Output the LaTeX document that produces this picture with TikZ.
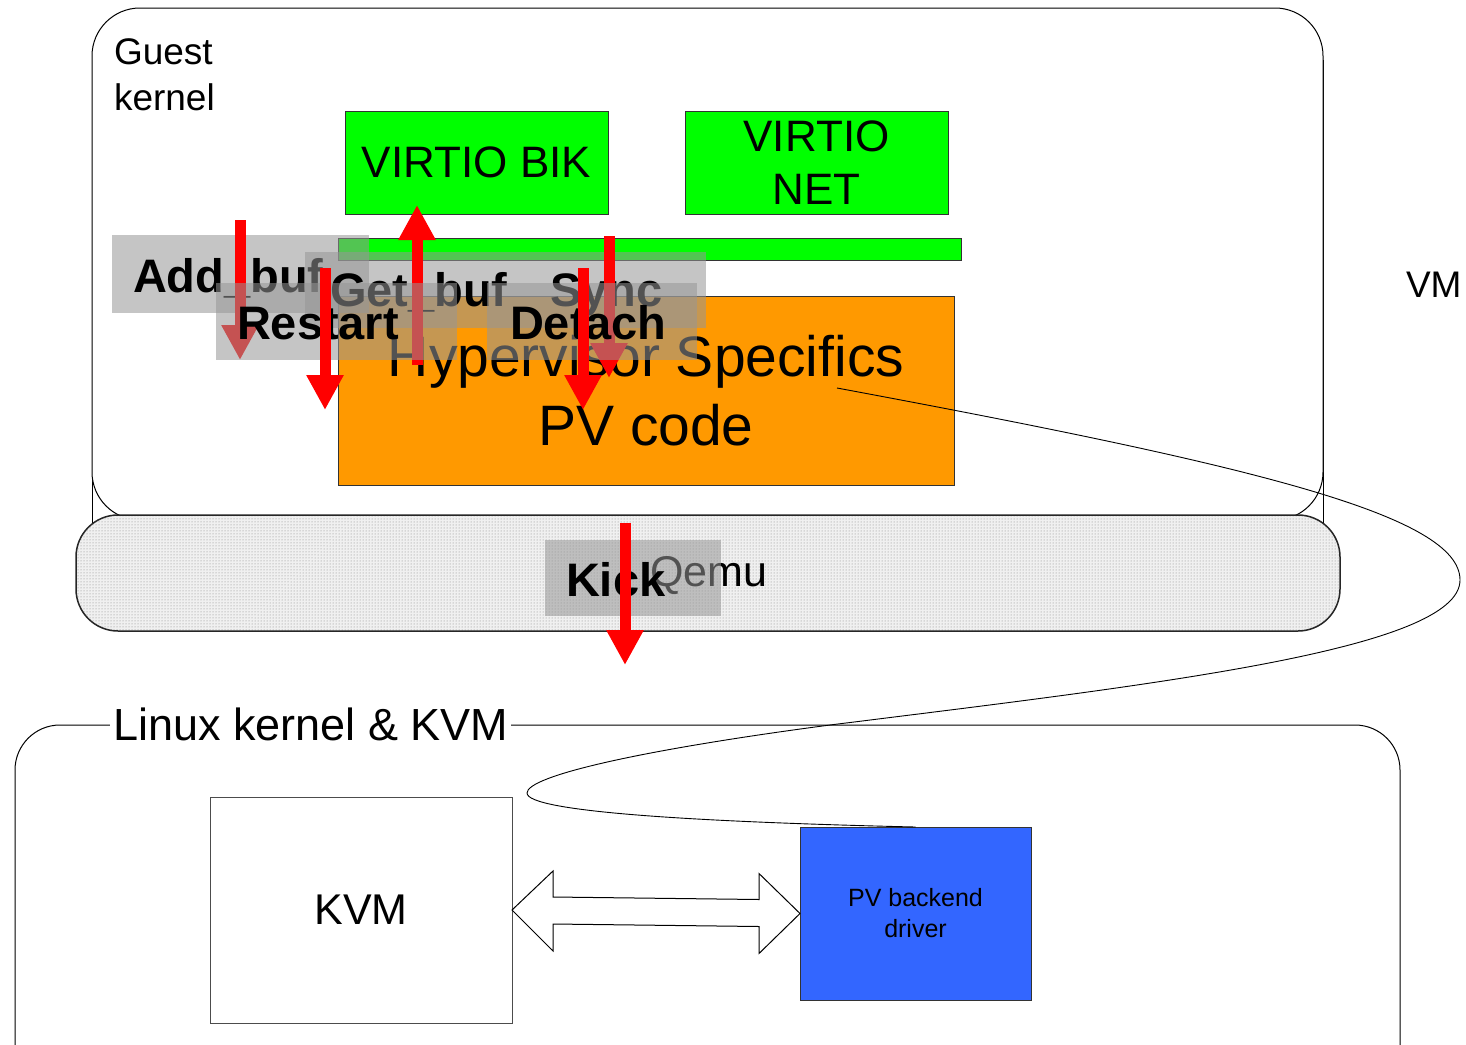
\documentclass[tikz,border=0pt]{standalone}
\usepackage{fontspec}
\setmainfont{Liberation Sans}
\usetikzlibrary{arrows.meta,patterns,calc}
\definecolor{vgreen}{HTML}{00FF00}
\definecolor{vorange}{HTML}{FF9900}
\definecolor{vblue}{HTML}{3366FF}
\definecolor{vred}{HTML}{FF0000}
\definecolor{labgray}{RGB}{150,150,150}
\newcommand\fsz[2]{\fontsize{#1}{#2}\selectfont}
\begin{document}
\begin{tikzpicture}[x=1pt,y=-1pt,
  thinline/.style={draw=black, line width=1pt},
  txt/.style={inner sep=0pt, outer sep=0pt},
  boxnode/.style={draw=black!80, line width=1pt, inner sep=0pt, outer sep=0pt, align=center},
  labelbox/.style={fill=labgray, fill opacity=0.55, draw=none},
  boldlab/.style={txt, anchor=base west, font=\fsz{47}{55}\bfseries},
  redarrow/.style={draw=vred, line width=11pt, -{Triangle[length=35pt,width=35pt]}}
]
\useasboundingbox (0,0) rectangle (1466,1044);

% VM outer frame and guest kernel
\draw[thinline] (92,60) rectangle (1323,525);
\draw[thinline, fill=white, rounded corners=48pt] (92,8) rectangle (1323,520);
\node[txt, anchor=west, align=left, font=\fsz{37}{46}] (guest) at (114,75) {Guest\\kernel};
\node[txt, anchor=base west, font=\fsz{37}{46}] (vm) at (1406,297) {VM};

% green and orange blocks
\node[boxnode, fill=vgreen, minimum width=263pt, minimum height=103pt, font=\fsz{44}{53}] (blk) at (476.5,162.5) {VIRTIO BIK};
\node[boxnode, fill=vgreen, minimum width=263pt, minimum height=103pt, font=\fsz{44}{53}] (net) at (816.5,162.5) {\raisebox{2pt}{\parbox{250pt}{\centering VIRTIO\\NET}}};
\node[boxnode, fill=vgreen, minimum width=623pt, minimum height=22pt] (bar) at (649.5,249) {};
\node[boxnode, fill=vorange, minimum width=616pt, minimum height=189pt, font=\fsz{57}{69}] (hv) at (646,390.5) {Hypervisor Specifics\\PV code};
\coordinate (hvstart) at (837,388);

% Qemu
\path[fill=gray!12, rounded corners=42pt] (76,515) rectangle (1340,631);
\path[pattern=dots, pattern color=gray, rounded corners=42pt] (76,515) rectangle (1340,631);
\draw[line width=1.5pt, draw=black!85, rounded corners=42pt] (76,515) rectangle (1340,631);
\node[txt, anchor=base, font=\fsz{43}{50}] (qemu) at (709,586) {Qemu};

% Linux kernel & KVM
\draw[thinline, rounded corners=45pt] (15,1060) -- (15,725) -- (1400,725) -- (1400,1060);
\node[txt, fill=white, inner xsep=3pt, inner ysep=2pt, anchor=base west, font=\fsz{45}{50}] (linux) at (110,740) {Linux kernel \& KVM};
\node[boxnode, draw=black!70, fill=white, minimum width=302pt, minimum height=226pt, font=\fsz{43}{50}] (kvm) at (361,910) {KVM};
\node[boxnode, fill=vblue, minimum width=231pt, minimum height=173pt, font=\fsz{25}{31}] (pv) at (915.5,913.5) {PV backend\\driver};

% double arrow between KVM and PV backend
\draw[thinline, fill=white, line join=miter]
  (kvm.east) -- ($(kvm.east)+(41,-39)$) -- ($(kvm.east)+(41,-13)$) -- ($(pv.west)+(-41,-14)$)
  -- ($(pv.west)+(-41,-40)$) -- (pv.west) -- ($(pv.west)+(-41,40)$) -- ($(pv.west)+(-41,13)$)
  -- ($(kvm.east)+(41,14)$) -- ($(kvm.east)+(41,41)$) -- cycle;

% curve
\draw[line width=0.9pt] (hvstart) .. controls (1250,465) and (1460,515) .. (1460,580)
  .. controls (1460,650) and (1150,685) .. (830,725)
  .. controls (640,750) and (527,776) .. (527,793)
  .. controls (527,812) and (700,822) .. (pv.north);

% Add_buf
\path[labelbox] (112,235) rectangle (369,313);
\node[boldlab] (addbuf) at (133,292) {Add\_buf};
\coordinate (ab1) at (240,220); \coordinate (ab2) at (240,360);
\draw[redarrow] (ab1) -- (ab2);

% Get_buf
\path[labelbox] (305,252) rectangle (528,328);
\node[boldlab] (getbuf) at (330,306) {Get\_buf};
\coordinate (gb1) at (417,365); \coordinate (gb2) at (417,205);
\draw[redarrow] (gb1) -- (gb2);

% Sync
\path[labelbox] (528,252) rectangle (706,328);
\node[boldlab] (sync) at (550,306) {Sync};
\coordinate (sy1) at (609,236); \coordinate (sy2) at (609,378);
\draw[redarrow] (sy1) -- (sy2);

% Restart
\path[labelbox] (216,283) rectangle (457,360);
\node[boldlab] (restart) at (237,339) {Restart};
\coordinate (rs1) at (325,268); \coordinate (rs2) at (325,410);
\draw[redarrow] (rs1) -- (rs2);

% Detach
\path[labelbox] (487,283) rectangle (697,360);
\node[boldlab] (detach) at (510,339) {Detach};
\coordinate (dt1) at (583,268); \coordinate (dt2) at (583,410);
\draw[redarrow] (dt1) -- (dt2);

% Kick
\path[labelbox] (545,540) rectangle (721,616);
\node[boldlab] (kick) at (566,596) {Kick};
\coordinate (kk1) at (625,523); \coordinate (kk2) at (625,665);
\draw[redarrow] (kk1) -- (kk2);
\end{tikzpicture}
\end{document}
